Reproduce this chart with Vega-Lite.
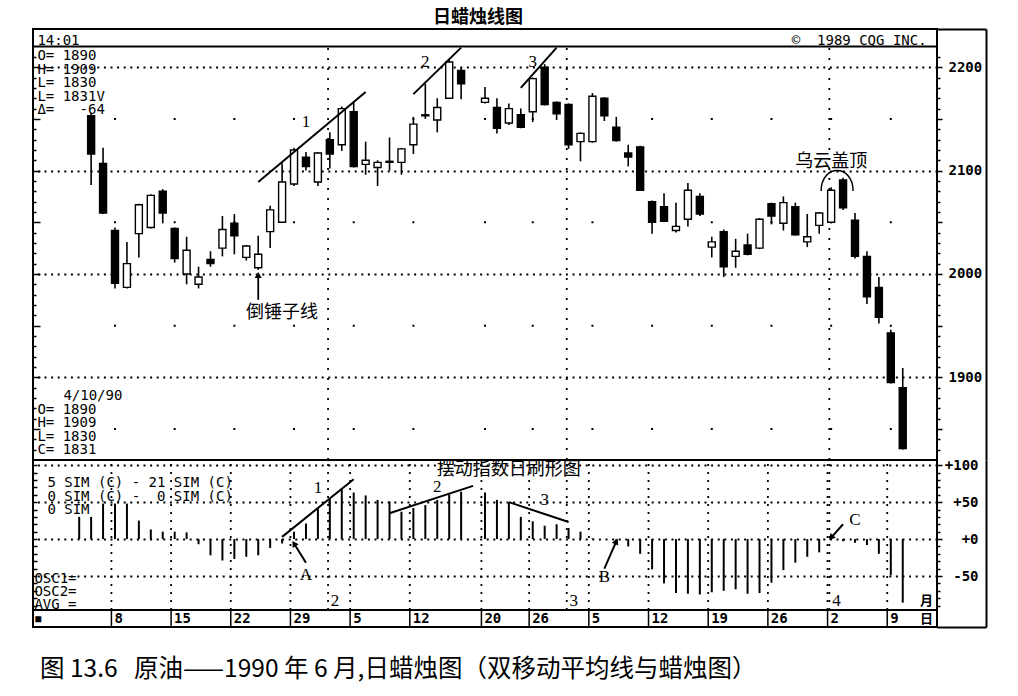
{
  "$schema": "https://vega.github.io/schema/vega-lite/v6.json",
  "description": "Crude oil daily candlestick chart with 5/21 day oscillator, Jan - Apr 1990",
  "background": "white",
  "padding": {"left": 31, "top": 8, "right": 20, "bottom": 10},
  "config": {
    "view": {"stroke": "black", "strokeWidth": 2},
    "axis": {"labelColor": "black", "tickColor": "black", "domainColor": "black"}
  },
  "datasets": {
    "candles": [
      {"d": "1990-01-04", "o": 2153, "h": 2156, "l": 2086, "c": 2116},
      {"d": "1990-01-05", "o": 2107, "h": 2122, "l": 2058, "c": 2059},
      {"d": "1990-01-08", "o": 2042, "h": 2045, "l": 1986, "c": 1991},
      {"d": "1990-01-09", "o": 1987, "h": 2031, "l": 1986, "c": 2010},
      {"d": "1990-01-10", "o": 2039, "h": 2068, "l": 2016, "c": 2067},
      {"d": "1990-01-11", "o": 2045, "h": 2077, "l": 2044, "c": 2076},
      {"d": "1990-01-12", "o": 2080, "h": 2082, "l": 2049, "c": 2059},
      {"d": "1990-01-15", "o": 2044, "h": 2045, "l": 2011, "c": 2015},
      {"d": "1990-01-16", "o": 2000, "h": 2036, "l": 1990, "c": 2023},
      {"d": "1990-01-17", "o": 1990, "h": 2007, "l": 1986, "c": 1997},
      {"d": "1990-01-18", "o": 2014, "h": 2022, "l": 2007, "c": 2010},
      {"d": "1990-01-19", "o": 2025, "h": 2056, "l": 2017, "c": 2043},
      {"d": "1990-01-22", "o": 2049, "h": 2058, "l": 2019, "c": 2037},
      {"d": "1990-01-23", "o": 2016, "h": 2028, "l": 2013, "c": 2027},
      {"d": "1990-01-24", "o": 2006, "h": 2037, "l": 2004, "c": 2019},
      {"d": "1990-01-25", "o": 2041, "h": 2066, "l": 2025, "c": 2062},
      {"d": "1990-01-26", "o": 2050, "h": 2107, "l": 2050, "c": 2089},
      {"d": "1990-01-29", "o": 2087, "h": 2122, "l": 2085, "c": 2120},
      {"d": "1990-01-30", "o": 2113, "h": 2118, "l": 2100, "c": 2104},
      {"d": "1990-01-31", "o": 2089, "h": 2118, "l": 2085, "c": 2117},
      {"d": "1990-02-01", "o": 2130, "h": 2137, "l": 2102, "c": 2116},
      {"d": "1990-02-02", "o": 2125, "h": 2162, "l": 2119, "c": 2160},
      {"d": "1990-02-05", "o": 2157, "h": 2167, "l": 2103, "c": 2104},
      {"d": "1990-02-06", "o": 2106, "h": 2128, "l": 2096, "c": 2110},
      {"d": "1990-02-07", "o": 2103, "h": 2110, "l": 2085, "c": 2108},
      {"d": "1990-02-08", "o": 2108, "h": 2132, "l": 2100, "c": 2109},
      {"d": "1990-02-09", "o": 2108, "h": 2122, "l": 2096, "c": 2121},
      {"d": "1990-02-12", "o": 2125, "h": 2152, "l": 2116, "c": 2145},
      {"d": "1990-02-13", "o": 2153, "h": 2184, "l": 2150, "c": 2154},
      {"d": "1990-02-14", "o": 2149, "h": 2170, "l": 2137, "c": 2161},
      {"d": "1990-02-15", "o": 2170, "h": 2208, "l": 2170, "c": 2205},
      {"d": "1990-02-16", "o": 2197, "h": 2200, "l": 2169, "c": 2184},
      {"d": "1990-02-20", "o": 2166, "h": 2181, "l": 2165, "c": 2170},
      {"d": "1990-02-21", "o": 2161, "h": 2170, "l": 2136, "c": 2141},
      {"d": "1990-02-22", "o": 2146, "h": 2165, "l": 2144, "c": 2160},
      {"d": "1990-02-23", "o": 2154, "h": 2160, "l": 2141, "c": 2142},
      {"d": "1990-02-26", "o": 2157, "h": 2190, "l": 2147, "c": 2189},
      {"d": "1990-02-27", "o": 2200, "h": 2203, "l": 2163, "c": 2164},
      {"d": "1990-02-28", "o": 2166, "h": 2167, "l": 2149, "c": 2155},
      {"d": "1990-03-01", "o": 2164, "h": 2165, "l": 2121, "c": 2125},
      {"d": "1990-03-02", "o": 2128, "h": 2137, "l": 2109, "c": 2136},
      {"d": "1990-03-05", "o": 2128, "h": 2175, "l": 2127, "c": 2172},
      {"d": "1990-03-06", "o": 2170, "h": 2171, "l": 2148, "c": 2153},
      {"d": "1990-03-07", "o": 2142, "h": 2152, "l": 2128, "c": 2129},
      {"d": "1990-03-08", "o": 2117, "h": 2125, "l": 2104, "c": 2113},
      {"d": "1990-03-09", "o": 2123, "h": 2124, "l": 2081, "c": 2081},
      {"d": "1990-03-12", "o": 2070, "h": 2071, "l": 2039, "c": 2050},
      {"d": "1990-03-13", "o": 2065, "h": 2078, "l": 2050, "c": 2051},
      {"d": "1990-03-14", "o": 2042, "h": 2069, "l": 2040, "c": 2046},
      {"d": "1990-03-15", "o": 2053, "h": 2088, "l": 2046, "c": 2081},
      {"d": "1990-03-16", "o": 2075, "h": 2078, "l": 2056, "c": 2058},
      {"d": "1990-03-19", "o": 2026, "h": 2036, "l": 2016, "c": 2031},
      {"d": "1990-03-20", "o": 2041, "h": 2043, "l": 1997, "c": 2007},
      {"d": "1990-03-21", "o": 2017, "h": 2034, "l": 2006, "c": 2022},
      {"d": "1990-03-22", "o": 2028, "h": 2039, "l": 2018, "c": 2019},
      {"d": "1990-03-23", "o": 2025, "h": 2054, "l": 2024, "c": 2053},
      {"d": "1990-03-26", "o": 2068, "h": 2069, "l": 2048, "c": 2056},
      {"d": "1990-03-27", "o": 2049, "h": 2075, "l": 2042, "c": 2069},
      {"d": "1990-03-28", "o": 2065, "h": 2069, "l": 2037, "c": 2038},
      {"d": "1990-03-29", "o": 2031, "h": 2058, "l": 2026, "c": 2036},
      {"d": "1990-03-30", "o": 2047, "h": 2060, "l": 2039, "c": 2059},
      {"d": "1990-04-02", "o": 2050, "h": 2084, "l": 2049, "c": 2081},
      {"d": "1990-04-03", "o": 2091, "h": 2093, "l": 2062, "c": 2064},
      {"d": "1990-04-04", "o": 2052, "h": 2059, "l": 2015, "c": 2017},
      {"d": "1990-04-05", "o": 2017, "h": 2022, "l": 1971, "c": 1978},
      {"d": "1990-04-06", "o": 1987, "h": 1997, "l": 1952, "c": 1958},
      {"d": "1990-04-09", "o": 1943, "h": 1946, "l": 1894, "c": 1895},
      {"d": "1990-04-10", "o": 1890, "h": 1909, "l": 1830, "c": 1831}
    ],
    "osc": [
      {"d": "1990-01-03", "v": 30}, {"d": "1990-01-04", "v": 30}, {"d": "1990-01-05", "v": 48},
      {"d": "1990-01-08", "v": 48}, {"d": "1990-01-09", "v": 48}, {"d": "1990-01-10", "v": 25},
      {"d": "1990-01-11", "v": 13}, {"d": "1990-01-12", "v": 10}, {"d": "1990-01-15", "v": 10},
      {"d": "1990-01-16", "v": 9}, {"d": "1990-01-17", "v": -7}, {"d": "1990-01-18", "v": -22},
      {"d": "1990-01-19", "v": -29}, {"d": "1990-01-22", "v": -27}, {"d": "1990-01-23", "v": -24},
      {"d": "1990-01-24", "v": -22}, {"d": "1990-01-25", "v": -12}, {"d": "1990-01-26", "v": -6},
      {"d": "1990-01-29", "v": 10}, {"d": "1990-01-30", "v": 21}, {"d": "1990-01-31", "v": 42},
      {"d": "1990-02-01", "v": 54}, {"d": "1990-02-02", "v": 69}, {"d": "1990-02-05", "v": 63},
      {"d": "1990-02-06", "v": 59}, {"d": "1990-02-07", "v": 53}, {"d": "1990-02-08", "v": 51},
      {"d": "1990-02-09", "v": 37}, {"d": "1990-02-12", "v": 42}, {"d": "1990-02-13", "v": 46},
      {"d": "1990-02-14", "v": 53}, {"d": "1990-02-15", "v": 60}, {"d": "1990-02-16", "v": 64},
      {"d": "1990-02-20", "v": 63}, {"d": "1990-02-21", "v": 53}, {"d": "1990-02-22", "v": 49},
      {"d": "1990-02-23", "v": 30}, {"d": "1990-02-26", "v": 24}, {"d": "1990-02-27", "v": 18},
      {"d": "1990-02-28", "v": 20}, {"d": "1990-03-01", "v": 15}, {"d": "1990-03-02", "v": 10},
      {"d": "1990-03-05", "v": 1}, {"d": "1990-03-06", "v": 0}, {"d": "1990-03-07", "v": -6},
      {"d": "1990-03-08", "v": -10}, {"d": "1990-03-09", "v": -20}, {"d": "1990-03-12", "v": -41},
      {"d": "1990-03-13", "v": -60}, {"d": "1990-03-14", "v": -73}, {"d": "1990-03-15", "v": -74},
      {"d": "1990-03-16", "v": -75}, {"d": "1990-03-19", "v": -72}, {"d": "1990-03-20", "v": -70},
      {"d": "1990-03-21", "v": -68}, {"d": "1990-03-22", "v": -74}, {"d": "1990-03-23", "v": -73},
      {"d": "1990-03-26", "v": -59}, {"d": "1990-03-27", "v": -42}, {"d": "1990-03-28", "v": -32},
      {"d": "1990-03-29", "v": -24}, {"d": "1990-03-30", "v": -18}, {"d": "1990-04-02", "v": -1},
      {"d": "1990-04-03", "v": -3}, {"d": "1990-04-04", "v": -5}, {"d": "1990-04-05", "v": -8},
      {"d": "1990-04-06", "v": -20}, {"d": "1990-04-09", "v": -49}, {"d": "1990-04-10", "v": -86}
    ],
    "weeks": [
      {"d": "1990-01-08", "lab": "8"}, {"d": "1990-01-15", "lab": "15"}, {"d": "1990-01-22", "lab": "22"},
      {"d": "1990-01-29", "lab": "29"}, {"d": "1990-02-05", "lab": "5"}, {"d": "1990-02-12", "lab": "12"},
      {"d": "1990-02-20", "lab": "20"}, {"d": "1990-02-26", "lab": "26"}, {"d": "1990-03-05", "lab": "5"},
      {"d": "1990-03-12", "lab": "12"}, {"d": "1990-03-19", "lab": "19"}, {"d": "1990-03-26", "lab": "26"},
      {"d": "1990-04-02", "lab": "2"}, {"d": "1990-04-09", "lab": "9"}
    ],
    "months": [
      {"d": "1990-02-01", "m": "2"}, {"d": "1990-03-01", "m": "3"}, {"d": "1990-04-02", "m": "4"}
    ],
    "trendTop": [
      {"k": "1", "d": "1990-01-24", "v": 2089}, {"k": "1", "d": "1990-02-06", "v": 2176},
      {"k": "2", "d": "1990-02-12", "v": 2174}, {"k": "2", "d": "1990-02-16", "v": 2219},
      {"k": "3", "d": "1990-02-23", "v": 2180}, {"k": "3", "d": "1990-02-28", "v": 2219}
    ],
    "trendOsc": [
      {"k": "1", "d": "1990-01-26", "v": 3}, {"k": "1", "d": "1990-02-05", "v": 81},
      {"k": "2", "d": "1990-02-08", "v": 35}, {"k": "2", "d": "1990-02-19", "v": 72},
      {"k": "3", "d": "1990-02-22", "v": 50}, {"k": "3", "d": "1990-03-01", "v": 23}
    ],
    "arrowTop": [
      {"k": "H", "d": "1990-01-24", "v": 1975, "tip": false},
      {"k": "H", "d": "1990-01-24", "v": 1999, "tip": true}
    ],
    "arrowOsc": [
      {"k": "A", "d": "1990-01-30", "v": -32, "tip": false}, {"k": "A", "d": "1990-01-29", "v": -6, "tip": true},
      {"k": "B", "d": "1990-03-06", "v": -40, "tip": false}, {"k": "B", "d": "1990-03-07", "v": -3, "tip": true},
      {"k": "C", "d": "1990-04-03", "v": 20, "tip": false}, {"k": "C", "d": "1990-04-02", "v": 2, "tip": true}
    ],
    "notesTop": [
      {"d": "1990-01-30", "v": 2147, "t": "1"},
      {"d": "1990-02-13", "v": 2205, "t": "2"},
      {"d": "1990-02-26", "v": 2205, "t": "3"}
    ],
    "cjkTop": [
      {"d": "1990-01-26", "v": 1962, "t": "倒锤子线"},
      {"d": "1990-04-02", "v": 2108, "t": "乌云盖顶"}
    ],
    "infoTop": [
      {"d": "1989-12-28", "v": 2232, "t": "14:01"},
      {"d": "1989-12-28", "v": 2217.5, "t": "O= 1890\nH= 1909\nL= 1830\nL= 1831V\nΔ=\u00a0\u00a0 -64"},
      {"d": "1989-12-28", "v": 1875.4, "t": "O= 1890\nH= 1909\nL= 1830\nC= 1831"}
    ],
    "notesOsc": [
      {"d": "1990-01-31", "v": 69, "t": "1"},
      {"d": "1990-02-14", "v": 70, "t": "2"},
      {"d": "1990-02-27", "v": 53, "t": "3"},
      {"d": "1990-01-30", "v": -49, "t": "A"},
      {"d": "1990-03-06", "v": -51, "t": "B"},
      {"d": "1990-04-04", "v": 26, "t": "C"}
    ]
  },
  "resolve": {"scale": {"x": "shared"}},
  "spacing": 0,
  "bounds": "flush",
  "vconcat": [
    {
      "width": 904,
      "height": 431,
      "title": {"text": "日蜡烛线图", "font": "Noto Sans CJK SC", "fontSize": 18, "fontWeight": "bold", "color": "black", "offset": 1, "dx": -7},
      "resolve": {"axis": {"y": "independent"}},
      "layer": [
        {
          "data": {"name": "weeks"},
          "mark": {"type": "rule", "color": "black", "strokeWidth": 2, "strokeDash": [2, 101.36], "strokeDashOffset": 73.36},
          "encoding": {
            "x": {
              "field": "d", "type": "ordinal", "axis": null,
              "scale": {
                "type": "band", "paddingInner": 0, "paddingOuter": 0.37,
                "domain": ["1989-12-28","1989-12-29","1990-01-02","1990-01-03","1990-01-04","1990-01-05","1990-01-08","1990-01-09","1990-01-10","1990-01-11","1990-01-12","1990-01-15","1990-01-16","1990-01-17","1990-01-18","1990-01-19","1990-01-22","1990-01-23","1990-01-24","1990-01-25","1990-01-26","1990-01-29","1990-01-30","1990-01-31","1990-02-01","1990-02-02","1990-02-05","1990-02-06","1990-02-07","1990-02-08","1990-02-09","1990-02-12","1990-02-13","1990-02-14","1990-02-15","1990-02-16","1990-02-19","1990-02-20","1990-02-21","1990-02-22","1990-02-23","1990-02-26","1990-02-27","1990-02-28","1990-03-01","1990-03-02","1990-03-05","1990-03-06","1990-03-07","1990-03-08","1990-03-09","1990-03-12","1990-03-13","1990-03-14","1990-03-15","1990-03-16","1990-03-19","1990-03-20","1990-03-21","1990-03-22","1990-03-23","1990-03-26","1990-03-27","1990-03-28","1990-03-29","1990-03-30","1990-04-02","1990-04-03","1990-04-04","1990-04-05","1990-04-06","1990-04-09","1990-04-10","1990-04-11","1990-04-12"]
              }
            },
            "y": {
              "datum": 1820, "type": "quantitative",
              "scale": {"domain": [1820, 2237], "nice": false, "zero": false},
              "axis": {
                "orient": "left", "title": null, "labels": false, "domain": false, "grid": false,
                "values": [1830,1840,1850,1860,1870,1880,1890,1900,1910,1920,1930,1940,1950,1960,1970,1980,1990,2000,2010,2020,2030,2040,2050,2060,2070,2080,2090,2100,2110,2120,2130,2140,2150,2160,2170,2180,2190,2200,2210],
                "tickSize": {"condition": {"test": "datum.value % 50 === 0", "value": -7}, "value": -3},
                "tickWidth": 1.5
              }
            },
            "y2": {"datum": 2237}
          }
        },
        {
          "data": {"name": "months"},
          "mark": {"type": "rule", "color": "black", "strokeWidth": 1.8, "strokeDash": [2, 8]},
          "encoding": {
            "x": {"field": "d", "type": "ordinal", "bandPosition": 0.35, "axis": null},
            "y": {"datum": 1820, "type": "quantitative", "axis": null},
            "y2": {"datum": 2220}
          }
        },
        {
          "data": {"values": [{}]},
          "mark": {"type": "rule", "color": "black", "strokeWidth": 2},
          "encoding": {
            "y": {
              "datum": 2220, "type": "quantitative",
              "axis": {
                "orient": "right", "offset": 49, "title": null, "labels": false, "grid": false,
                "values": [2237], "tickSize": -49, "tickWidth": 2, "domain": true, "domainWidth": 2
              }
            }
          }
        },
        {
          "data": {"name": "candles"},
          "mark": {"type": "rule", "color": "black", "strokeWidth": 1.6},
          "encoding": {
            "x": {"field": "d", "type": "ordinal", "axis": null},
            "y": {
              "field": "l", "type": "quantitative",
              "axis": {
                "orient": "right", "title": null, "domain": false,
                "values": [1830,1840,1850,1860,1870,1880,1890,1900,1910,1920,1930,1940,1950,1960,1970,1980,1990,2000,2010,2020,2030,2040,2050,2060,2070,2080,2090,2100,2110,2120,2130,2140,2150,2160,2170,2180,2190,2200,2210],
                "labelExpr": "datum.value % 100 === 0 ? datum.value : ''",
                "labelFont": "DejaVu Sans Mono", "labelFontWeight": "bold", "labelFontSize": 14, "labelPadding": 6,
                "tickSize": {"condition": {"test": "datum.value % 50 === 0", "value": 5}, "value": 3},
                "tickWidth": 1.5,
                "grid": true, "gridColor": "black", "gridDash": [2, 4.6], "gridWidth": 1.8,
                "gridOpacity": {"condition": {"test": "datum.value % 100 === 0", "value": 1}, "value": 0}
              }
            },
            "y2": {"field": "h"}
          }
        },
        {
          "data": {"name": "candles"},
          "mark": {"type": "bar", "size": 7, "stroke": "black", "strokeWidth": 1.4},
          "encoding": {
            "x": {"field": "d", "type": "ordinal", "axis": null},
            "y": {"field": "o", "type": "quantitative", "axis": null},
            "y2": {"field": "c"},
            "fill": {"condition": {"test": "datum.c > datum.o", "value": "white"}, "value": "black"}
          }
        },
        {
          "data": {"name": "trendTop"},
          "mark": {"type": "line", "color": "black", "strokeWidth": 2},
          "encoding": {
            "x": {"field": "d", "type": "ordinal", "axis": null},
            "y": {"field": "v", "type": "quantitative", "axis": null},
            "detail": {"field": "k"}
          }
        },
        {
          "data": {"name": "arrowTop"},
          "mark": {"type": "line", "color": "black", "strokeWidth": 1.8},
          "encoding": {
            "x": {"field": "d", "type": "ordinal", "axis": null},
            "y": {"field": "v", "type": "quantitative", "axis": null},
            "detail": {"field": "k"}
          }
        },
        {
          "data": {"name": "arrowTop"},
          "transform": [{"filter": "datum.tip"}],
          "mark": {"type": "point", "shape": "triangle-up", "size": 50, "filled": true, "color": "black", "opacity": 1},
          "encoding": {
            "x": {"field": "d", "type": "ordinal", "axis": null},
            "y": {"field": "v", "type": "quantitative", "axis": null}
          }
        },
        {
          "data": {"values": [{"d": "1990-04-03", "v": 2088}]},
          "mark": {"type": "point", "shape": "M-1,0.5C-1,-1.2 1,-1.2 1,0.5", "size": 1024, "filled": false, "color": "black", "strokeWidth": 1.5, "opacity": 1},
          "encoding": {
            "x": {"field": "d", "type": "ordinal", "bandPosition": 0, "axis": null},
            "y": {"field": "v", "type": "quantitative", "axis": null}
          }
        },
        {
          "data": {"name": "notesTop"},
          "mark": {"type": "text", "font": "Liberation Serif", "fontSize": 17, "color": "black"},
          "encoding": {
            "x": {"field": "d", "type": "ordinal", "axis": null},
            "y": {"field": "v", "type": "quantitative", "axis": null},
            "text": {"field": "t"}
          }
        },
        {
          "data": {"name": "cjkTop"},
          "mark": {"type": "text", "font": "Noto Sans CJK SC", "fontSize": 18, "color": "black"},
          "encoding": {
            "x": {"field": "d", "type": "ordinal", "axis": null},
            "y": {"field": "v", "type": "quantitative", "axis": null},
            "text": {"field": "t"}
          }
        },
        {
          "data": {"name": "infoTop"},
          "mark": {"type": "text", "font": "DejaVu Sans Mono", "fontSize": 14, "color": "black", "align": "left", "baseline": "top", "dx": -6, "lineBreak": "\n", "lineHeight": 13.5},
          "encoding": {
            "x": {"field": "d", "type": "ordinal", "axis": null},
            "y": {"field": "v", "type": "quantitative", "axis": null},
            "text": {"field": "t"}
          }
        },
        {
          "data": {"values": [{"d": "1989-12-28", "v": 1888.5, "t": "4/10/90"}]},
          "mark": {"type": "text", "font": "DejaVu Sans Mono", "fontSize": 14, "color": "black", "align": "left", "baseline": "top", "dx": 20},
          "encoding": {
            "x": {"field": "d", "type": "ordinal", "axis": null},
            "y": {"field": "v", "type": "quantitative", "axis": null},
            "text": {"field": "t"}
          }
        },
        {
          "data": {"values": [{"d": "1990-04-12", "v": 2232, "t": "©\u00a0\u00a01989 CQG INC."}]},
          "mark": {"type": "text", "font": "DejaVu Sans Mono", "fontSize": 14, "color": "black", "align": "right", "baseline": "top", "dx": 0},
          "encoding": {
            "x": {"field": "d", "type": "ordinal", "axis": null},
            "y": {"field": "v", "type": "quantitative", "axis": null},
            "text": {"field": "t"}
          }
        }
      ]
    },
    {
      "width": 904,
      "height": 167,
      "title": {"text": "图 13.6\u00a0\u00a0\u00a0原油——1990 年 6 月,日蜡烛图（双移动平均线与蜡烛图）", "orient": "bottom", "anchor": "start", "font": "Noto Sans CJK SC", "fontSize": 24.5, "fontWeight": "normal", "color": "black", "offset": 30, "dx": 8},
      "resolve": {"axis": {"y": "independent"}},
      "layer": [
        {
          "data": {"name": "weeks"},
          "mark": {"type": "rule", "color": "black", "strokeWidth": 1.8, "strokeDash": [2, 6]},
          "encoding": {
            "x": {
              "field": "d", "type": "ordinal", "bandPosition": 0.2, "axis": null,
              "scale": {
                "type": "band", "paddingInner": 0, "paddingOuter": 0.37,
                "domain": ["1989-12-28","1989-12-29","1990-01-02","1990-01-03","1990-01-04","1990-01-05","1990-01-08","1990-01-09","1990-01-10","1990-01-11","1990-01-12","1990-01-15","1990-01-16","1990-01-17","1990-01-18","1990-01-19","1990-01-22","1990-01-23","1990-01-24","1990-01-25","1990-01-26","1990-01-29","1990-01-30","1990-01-31","1990-02-01","1990-02-02","1990-02-05","1990-02-06","1990-02-07","1990-02-08","1990-02-09","1990-02-12","1990-02-13","1990-02-14","1990-02-15","1990-02-16","1990-02-19","1990-02-20","1990-02-21","1990-02-22","1990-02-23","1990-02-26","1990-02-27","1990-02-28","1990-03-01","1990-03-02","1990-03-05","1990-03-06","1990-03-07","1990-03-08","1990-03-09","1990-03-12","1990-03-13","1990-03-14","1990-03-15","1990-03-16","1990-03-19","1990-03-20","1990-03-21","1990-03-22","1990-03-23","1990-03-26","1990-03-27","1990-03-28","1990-03-29","1990-03-30","1990-04-02","1990-04-03","1990-04-04","1990-04-05","1990-04-06","1990-04-09","1990-04-10","1990-04-11","1990-04-12"]
              }
            },
            "y": {
              "datum": -96, "type": "quantitative",
              "scale": {"domain": [-119, 107], "nice": false, "zero": false},
              "axis": {
                "orient": "left", "title": null, "labels": false, "domain": false, "grid": false,
                "values": [-90,-80,-70,-60,-50,-40,-30,-20,-10,0,10,20,30,40,50,60,70,80,90,100],
                "tickSize": -4, "tickWidth": 1.5
              }
            },
            "y2": {"datum": 107}
          }
        },
        {
          "data": {"name": "months"},
          "mark": {"type": "rule", "color": "black", "strokeWidth": 1.8, "strokeDash": [2, 6]},
          "encoding": {
            "x": {"field": "d", "type": "ordinal", "bandPosition": 0.35, "axis": null},
            "y": {"datum": -96, "type": "quantitative", "axis": null},
            "y2": {"datum": 107}
          }
        },
        {
          "data": {"name": "weeks"},
          "mark": {"type": "rule", "color": "black", "strokeWidth": 1.5},
          "encoding": {
            "x": {"field": "d", "type": "ordinal", "bandPosition": 0.2, "axis": null},
            "y": {"datum": -119, "type": "quantitative", "axis": null},
            "y2": {"datum": -96}
          }
        },
        {
          "data": {"values": [{}]},
          "mark": {"type": "rule", "color": "black", "strokeWidth": 2},
          "encoding": {
            "y": {
              "datum": -96, "type": "quantitative",
              "axis": {
                "orient": "right", "offset": 49, "title": null, "labels": false, "grid": false,
                "values": [-119], "tickSize": -49, "tickWidth": 2, "domain": true, "domainWidth": 2
              }
            }
          }
        },
        {
          "data": {"name": "osc"},
          "mark": {"type": "rule", "color": "black", "strokeWidth": 2},
          "encoding": {
            "x": {"field": "d", "type": "ordinal", "axis": null},
            "y": {
              "field": "v", "type": "quantitative",
              "axis": {
                "orient": "right", "title": null, "domain": false,
                "values": [-90,-80,-70,-60,-50,-40,-30,-20,-10,0,10,20,30,40,50,60,70,80,90,100],
                "labelExpr": "datum.value === 100 ? '+100' : datum.value === 50 ? '+50' : datum.value === 0 ? '+0' : datum.value === -50 ? '-50' : ''",
                "labelFont": "DejaVu Sans Mono", "labelFontWeight": "bold", "labelFontSize": 14,
                "labelAlign": "right", "labelPadding": 36,
                "tickSize": {"condition": {"test": "datum.value % 50 === 0", "value": 5}, "value": 3},
                "tickWidth": 1.5,
                "grid": true, "gridColor": "black", "gridDash": [2, 4.6], "gridWidth": 1.8,
                "gridOpacity": {"condition": {"test": "datum.value % 50 === 0", "value": 1}, "value": 0}
              }
            },
            "y2": {"datum": 0}
          }
        },
        {
          "data": {"name": "trendOsc"},
          "mark": {"type": "line", "color": "black", "strokeWidth": 2},
          "encoding": {
            "x": {"field": "d", "type": "ordinal", "axis": null},
            "y": {"field": "v", "type": "quantitative", "axis": null},
            "detail": {"field": "k"}
          }
        },
        {
          "data": {"name": "arrowOsc"},
          "mark": {"type": "line", "color": "black", "strokeWidth": 2},
          "encoding": {
            "x": {"field": "d", "type": "ordinal", "axis": null},
            "y": {"field": "v", "type": "quantitative", "axis": null},
            "detail": {"field": "k"}
          }
        },
        {
          "data": {"name": "arrowOsc"},
          "transform": [{"filter": "datum.tip && datum.k === 'A'"}],
          "mark": {"type": "point", "shape": "triangle-up", "size": 50, "filled": true, "color": "black", "opacity": 1, "angle": -32},
          "encoding": {
            "x": {"field": "d", "type": "ordinal", "axis": null},
            "y": {"field": "v", "type": "quantitative", "axis": null}
          }
        },
        {
          "data": {"name": "arrowOsc"},
          "transform": [{"filter": "datum.tip && datum.k === 'B'"}],
          "mark": {"type": "point", "shape": "triangle-up", "size": 50, "filled": true, "color": "black", "opacity": 1, "angle": 24},
          "encoding": {
            "x": {"field": "d", "type": "ordinal", "axis": null},
            "y": {"field": "v", "type": "quantitative", "axis": null}
          }
        },
        {
          "data": {"name": "arrowOsc"},
          "transform": [{"filter": "datum.tip && datum.k === 'C'"}],
          "mark": {"type": "point", "shape": "triangle-up", "size": 50, "filled": true, "color": "black", "opacity": 1, "angle": 222},
          "encoding": {
            "x": {"field": "d", "type": "ordinal", "axis": null},
            "y": {"field": "v", "type": "quantitative", "axis": null}
          }
        },
        {
          "data": {"name": "notesOsc"},
          "mark": {"type": "text", "font": "Liberation Serif", "fontSize": 17, "color": "black"},
          "encoding": {
            "x": {"field": "d", "type": "ordinal", "axis": null},
            "y": {"field": "v", "type": "quantitative", "axis": null},
            "text": {"field": "t"}
          }
        },
        {
          "data": {"name": "months"},
          "mark": {"type": "text", "font": "Liberation Serif", "fontSize": 17, "color": "black", "align": "left", "dx": 1},
          "encoding": {
            "x": {"field": "d", "type": "ordinal", "axis": null},
            "y": {"datum": -84, "type": "quantitative", "axis": null},
            "text": {"field": "m"}
          }
        },
        {
          "data": {"values": [{"d": "1990-02-22", "v": 93, "t": "摆动指数日刷形图"}]},
          "mark": {"type": "text", "font": "Noto Sans CJK SC", "fontSize": 18, "color": "black"},
          "encoding": {
            "x": {"field": "d", "type": "ordinal", "axis": null},
            "y": {"field": "v", "type": "quantitative", "axis": null},
            "text": {"field": "t"}
          }
        },
        {
          "data": {"values": [{"d": "1990-04-12", "v": -84, "t": "月"}, {"d": "1990-04-12", "v": -107.5, "t": "日"}]},
          "mark": {"type": "text", "font": "Noto Sans CJK SC", "fontSize": 13, "fontWeight": "bold", "color": "black"},
          "encoding": {
            "x": {"field": "d", "type": "ordinal", "axis": null},
            "y": {"field": "v", "type": "quantitative", "axis": null},
            "text": {"field": "t"}
          }
        },
        {
          "data": {"name": "weeks"},
          "mark": {"type": "text", "font": "DejaVu Sans Mono", "fontSize": 14, "fontWeight": "bold", "color": "black", "align": "left", "dx": 3},
          "encoding": {
            "x": {"field": "d", "type": "ordinal", "bandPosition": 0.2, "axis": null},
            "y": {"datum": -107.5, "type": "quantitative", "axis": null},
            "text": {"field": "lab"}
          }
        },
        {
          "data": {"values": [{"d": "1989-12-28", "v": -107.5, "t": "■"}]},
          "mark": {"type": "text", "font": "DejaVu Sans Mono", "fontSize": 10, "color": "black", "dx": -5},
          "encoding": {
            "x": {"field": "d", "type": "ordinal", "axis": null},
            "y": {"field": "v", "type": "quantitative", "axis": null},
            "text": {"field": "t"}
          }
        },
        {
          "data": {"values": [{"d": "1989-12-28", "v": 85.3, "t": "5 SIM (C) - 21 SIM (C)\n0 SIM (C) -\u00a0\u00a00 SIM (C)\n0 SIM"}]},
          "mark": {"type": "text", "font": "DejaVu Sans Mono", "fontSize": 14, "color": "black", "align": "left", "baseline": "top", "dx": 4, "lineBreak": "\n", "lineHeight": 13.5},
          "encoding": {
            "x": {"field": "d", "type": "ordinal", "axis": null},
            "y": {"field": "v", "type": "quantitative", "axis": null},
            "text": {"field": "t"}
          }
        },
        {
          "data": {"values": [{"d": "1989-12-28", "v": -44.7, "t": "OSC1=\nOSC2=\nAVG ="}]},
          "mark": {"type": "text", "font": "DejaVu Sans Mono", "fontSize": 14, "color": "black", "align": "left", "baseline": "top", "dx": -9, "lineBreak": "\n", "lineHeight": 13},
          "encoding": {
            "x": {"field": "d", "type": "ordinal", "axis": null},
            "y": {"field": "v", "type": "quantitative", "axis": null},
            "text": {"field": "t"}
          }
        }
      ]
    }
  ]
}
